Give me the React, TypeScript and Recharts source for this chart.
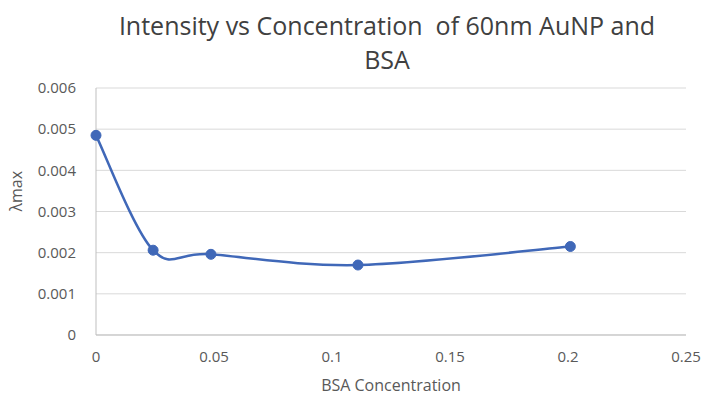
import { LineChart, Line, XAxis, YAxis, CartesianGrid } from "recharts";

const concentrations = [0, 0.0242, 0.0487, 0.111, 0.201];
const lambdaMax = [0.00485, 0.00206, 0.00196, 0.0017, 0.00215];
const xTicks = [0, 0.05, 0.1, 0.15, 0.2, 0.25];
const yTicks = [0, 0.001, 0.002, 0.003, 0.004, 0.005, 0.006];

const data = concentrations.map((c, i) => ({ x: c, y: lambdaMax[i] }));

// Excel-like smoothed line (Catmull-Rom style bezier)
const smoothCurve = (context: any) => {
  let pts: number[][] = [];
  return {
    areaStart() {},
    areaEnd() {},
    lineStart() {
      pts = [];
    },
    point(x: number, y: number) {
      pts.push([+x, +y]);
    },
    lineEnd() {
      if (!pts.length) return;
      context.moveTo(pts[0][0], pts[0][1]);
      for (let i = 0; i < pts.length - 1; i++) {
        const p0 = pts[i - 1] || pts[i];
        const p1 = pts[i];
        const p2 = pts[i + 1];
        const p3 = pts[i + 2] || p2;
        context.bezierCurveTo(
          p1[0] + (p2[0] - p0[0]) / 6,
          p1[1] + (p2[1] - p0[1]) / 6,
          p2[0] - (p3[0] - p1[0]) / 6,
          p2[1] - (p3[1] - p1[1]) / 6,
          p2[0],
          p2[1]
        );
      }
    },
  };
};

const FONT = "'Open Sans', 'Liberation Sans', sans-serif";
const TEXT = "#595959";

export default function App() {
  return (
    <div
      style={{
        position: "absolute",
        left: 0,
        top: 0,
        width: 710,
        height: 399,
        background: "#fff",
        fontFamily: FONT,
      }}
    >
      <div
        style={{
          position: "absolute",
          left: 42,
          width: 690,
          top: 8,
          textAlign: "center",
          fontSize: 25,
          lineHeight: "34px",
          color: "#404040",
        }}
      >
        Intensity vs Concentration&nbsp; of 60nm AuNP and
        <br />
        BSA
      </div>
      <LineChart
        width={710}
        height={399}
        data={data}
        margin={{ top: 88, right: 24, bottom: 0, left: 0 }}
      >
        <CartesianGrid vertical={false} stroke="#d9d9d9" />
        <XAxis
          dataKey="x"
          type="number"
          domain={[0, 0.25]}
          ticks={xTicks}
          height={64}
          tickLine={false}
          stroke="#bfbfbf"
          tick={{ fill: TEXT, fontSize: 15, fontFamily: FONT }}
          tickMargin={10}
          label={{
            value: "BSA Concentration",
            position: "insideBottom",
            offset: 8,
            fill: TEXT,
            fontSize: 16,
            fontFamily: FONT,
          }}
        />
        <YAxis
          type="number"
          domain={[0, 0.006]}
          ticks={yTicks}
          width={96}
          tickLine={false}
          stroke="#bfbfbf"
          tick={{ fill: TEXT, fontSize: 15, fontFamily: FONT }}
          tickMargin={14}
          label={{
            value: "λmax",
            angle: -90,
            position: "insideLeft",
            offset: 16,
            fill: TEXT,
            fontSize: 16,
            fontFamily: FONT,
          }}
        />
        <Line
          dataKey="y"
          type={smoothCurve as any}
          stroke="#4068b8"
          strokeWidth={2.5}
          dot={{ r: 5, fill: "#4068b8", stroke: "#4068b8", strokeWidth: 1 }}
          isAnimationActive={false}
        />
      </LineChart>
    </div>
  );
}
